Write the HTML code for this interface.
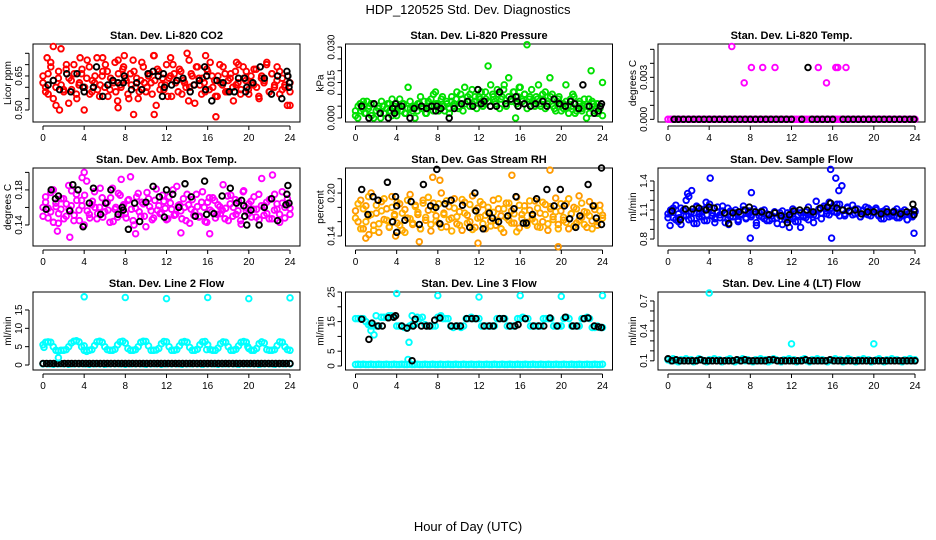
<!DOCTYPE html>
<html><head><meta charset="utf-8"><style>
body{margin:0;background:#fff}
svg{display:block}
text{font-family:"Liberation Sans",sans-serif}
</style></head><body>
<svg id="c" width="936" height="540" viewBox="0 0 936 540" xmlns="http://www.w3.org/2000/svg">
<rect width="936" height="540" fill="#fff"/>
<text x="468" y="14" font-size="13" text-anchor="middle">HDP_120525  Std. Dev. Diagnostics</text>
<text x="468" y="531" font-size="13" text-anchor="middle">Hour of Day (UTC)</text>
</svg>
<script>
// ---- data (hours 0-24, values estimated from figure) ----
const xTicks=[0,4,8,12,16,20,24];
// Panel 1: CO2 (hundredths of ppm)
const co2A=[62,58,66,71,55,60,64,77,59,68,53,63,70,57,61,66,50,64,69,58,62,73,56,65,60,67,59,63,71,54,61,68,64,57,66,72,60,55,63,69,58,65,62,74,52,67,61,59,70,64,56,66,63,68,57,62,75,60,65,53,69,61,64,58,67,71,60,56,65,62,69,58,63,66,54,61,70,59,64,67,57,62,68,60,55,65,63,71,58,66,61,69,57,64,60,52,62];
const co2B=[65,60,57,69,63,52,67,61,58,70,64,59,66,55,62,68,60,72,57,63,65,59,61,67,70,56,64,62,58,66,60,69,63,55,61,67,64,58,71,62,60,66,57,63,68,59,64,61,56,65,70,62,58,67,63,60,54,66,61,69,64,57,62,68,59,65,63,56,70,61,66,58,64,60,67,62,57,69,63,59,65,61,68,56,64,62,70,58,66,60,63,67,59,61,65,58];
const co2Out=[[1.0,78],[0.4,73],[3.6,73],[5.8,73],[7.3,72],[7.9,74],[10.8,74],[12.4,73],[15.8,74],[14.2,72],[18.8,71],[1.6,50],[8.8,48],[10.8,48],[16.8,47],[7.3,51],[24.0,52]];
const co2Blk=[[0.5,61],[1.0,63],[1.6,59],[2.3,66],[2.7,58],[3.3,66],[3.9,60],[4.0,58],[4.9,60],[5.2,69],[5.8,56],[6.3,61],[6.8,63],[7.3,62],[7.8,62],[7.9,65],[8.6,59],[9.1,62],[9.6,59],[10.2,66],[10.7,67],[11.2,65],[11.6,56],[11.7,66],[11.8,60],[12.5,61],[13.0,63],[13.6,64],[14.3,58],[14.7,61],[15.2,63],[15.7,69],[15.8,59],[15.9,65],[16.4,54],[16.9,63],[17.5,62],[18.1,58],[18.6,58],[19.0,64],[19.6,64],[19.7,58],[19.8,60],[20.4,62],[21.1,69],[21.5,64],[22.2,57],[22.8,65],[23.2,55],[23.7,67],[23.8,65],[23.9,60],[23.95,62]];
// Panel 2: pressure (thousandths kPa)
const presA=[3,0,6,4,2,7,5,1,6,3,4,0,5,2,6,3,8,4,1,5,3,6,2,13,4,5,0,3,6,4,7,2,5,8,3,11,6,4,9,3,6,2,7,5,8,4,10,3,6,9,5,12,7,4,9,11,6,8,22,5,10,7,12,4,9,14,6,17,8,11,0,9,13,7,10,31,8,12,6,9,14,5,8,11,6,17,10,4,7,9,3,6,14,5,8,10,2,4,7,3,5,0,8,20,6,4,2,5,15];
const presB=[1,5,3,7,2,4,6,0,3,5,7,2,4,6,1,5,3,8,6,2,4,7,3,5,6,9,4,2,7,5,10,6,3,8,5,7,4,9,6,11,5,8,13,7,10,6,9,12,8,5,11,7,14,9,6,10,8,12,5,9,7,11,6,13,8,10,4,9,7,5,8,6,10,4,7,9,5,3,8,6,4,7,2,5,9,3,6,4,8,5,2,7,3,6,4,1];
const presBlk=[[0.6,5],[1.3,0],[1.8,6],[2.4,2],[3.2,0],[3.6,4],[3.8,2],[3.9,6],[4.5,5],[5.3,0],[5.7,4],[6.4,5],[6.9,4],[7.4,5],[7.8,3],[7.9,5],[8.3,4],[9.1,0],[9.6,4],[10.3,6],[10.9,7],[11.4,5],[11.9,12],[12.2,6],[12.5,7],[13.1,5],[13.7,5],[14.0,11],[14.6,6],[15.1,8],[15.6,9],[15.7,7],[15.8,5],[16.4,6],[17.0,5],[17.5,6],[18.2,7],[18.6,5],[19.3,8],[19.8,6],[20.4,5],[20.9,7],[21.3,6],[21.7,4],[22.1,14],[22.7,5],[23.2,2],[23.6,3],[23.8,5],[23.9,6]];
// Panel 3: temp (ten-thousandths)
const tempBase=[0,0,0,0,0,0,0,0,0,0,0,0,0,0,0,0,0,0,0,0,0,0,0,0,0,0,0,0,0,0,0,0,0,0,0,0,0,0,0,0,0,0,0,0,0,0,0,0,0,0,0,0,0,0,0,0,0,0,0,0,0,0,0,0,0,0,0,0,0,0,0,0,0,0,0,0,0,0,0,0,0,0,0,0,0,0,0,0,0,0,0,0,0,0,0,0,0];
const tempOut=[[6.2,52],[7.4,26],[8.1,37],[9.2,37],[10.4,37],[14.6,37],[15.4,26],[16.3,37],[16.5,37],[17.3,37]];
const tempBlk=[[0.6,0],[1.0,0],[1.5,0],[2.0,0],[2.5,0],[3.0,0],[3.5,0],[4.0,0],[4.5,0],[5.0,0],[5.5,0],[6.0,0],[6.5,0],[7.0,0],[7.5,0],[8.0,0],[8.5,0],[9.0,0],[9.5,0],[10.0,0],[10.5,0],[11.0,0],[11.5,0],[12.0,0],[13.0,0],[13.6,37],[14.0,0],[14.5,0],[15.0,0],[15.5,0],[16.0,0],[17.0,0],[17.5,0],[18.0,0],[18.5,0],[19.0,0],[19.5,0],[20.0,0],[20.5,0],[21.0,0],[21.5,0],[22.0,0],[22.5,0],[23.0,0],[23.5,0],[23.9,0]];
// Panel 4: ambient box temp (thousandths)
const ambA=[160,172,148,155,180,165,142,158,170,150,185,162,145,175,157,168,140,190,152,163,178,147,160,171,155,166,143,182,158,149,174,161,153,168,195,145,159,176,150,164,138,170,156,148,181,162,154,167,146,172,158,151,184,163,147,160,175,142,169,155,161,150,178,144,166,157,171,148,163,153,186,159,145,174,160,152,167,141,179,156,164,149,172,158,146,193,162,153,169,147,175,158,143,165,160,170,152];
const ambB=[150,166,159,177,143,161,153,170,147,164,158,179,151,168,145,162,174,156,148,167,160,153,182,149,165,157,171,144,160,176,152,163,148,169,158,140,172,155,166,150,177,161,146,168,157,153,174,159,147,165,180,152,162,156,170,145,163,158,151,175,149,166,160,143,171,155,168,152,161,157,147,173,164,150,169,156,145,178,160,153,167,158,149,175,162,151,166,147,170,157,164,152,178,148,163,159];
const ambOut=[[2.6,126],[1.4,133],[4.0,200],[3.8,194],[7.6,192],[9.0,130],[22.3,197],[13.4,131],[16.2,130]];
const ambBlk=[[0.3,158],[0.8,180],[1.2,170],[1.5,173],[2.6,156],[2.9,186],[3.4,180],[3.9,138],[4.5,165],[4.9,182],[5.6,152],[6.1,165],[6.6,180],[7.3,152],[7.7,160],[7.8,157],[8.3,135],[8.9,165],[9.4,144],[10.0,166],[10.7,184],[11.3,172],[11.8,149],[12.0,180],[12.6,175],[13.2,160],[13.8,187],[14.4,172],[14.8,150],[15.7,190],[15.9,152],[16.6,153],[17.4,173],[18.2,182],[18.8,165],[19.3,168],[19.5,162],[19.6,150],[19.8,140],[20.2,157],[21.0,140],[21.5,160],[22.2,170],[22.8,145],[23.6,163],[23.7,175],[23.8,185],[23.9,165]];
// Panel 5: gas stream RH (thousandths)
const rhA=[175,160,190,150,182,168,200,155,172,145,188,163,178,152,195,170,158,185,148,177,165,198,156,183,170,150,190,162,176,147,186,168,158,200,172,153,181,165,192,157,174,148,187,169,160,196,152,179,166,184,150,173,161,190,155,178,168,145,186,162,175,158,194,151,170,182,159,176,164,189,153,172,160,184,148,178,167,193,156,175,162,185,150,171,180,158,196,166,174,152,188,161,177,155,183,169];
const rhB=[165,185,150,178,160,195,170,148,183,157,175,192,162,153,180,168,187,155,172,145,190,164,158,181,173,150,186,166,194,156,177,161,185,152,170,189,163,147,179,167,155,191,172,158,184,149,176,165,188,157,169,180,154,173,162,192,150,178,166,186,158,171,146,183,164,175,155,189,168,160,179,152,187,170,157,181,163,174,150,185,166,159,192,171,154,178,162,186,156,173,168,150,182,160,175,165];
const rhOut=[[1.0,137],[1.3,142],[6.2,132],[7.5,222],[8.2,218],[11.9,130],[18.9,232],[19.7,125],[15.2,225],[3.9,140]];
const rhBlk=[[0.6,205],[1.2,170],[1.7,195],[2.2,190],[3.1,215],[3.6,160],[3.9,195],[4.0,182],[4.0,145],[4.8,162],[5.4,188],[6.2,156],[6.6,212],[7.3,182],[7.8,180],[7.9,233],[8.2,157],[8.7,185],[9.3,190],[10.4,183],[11.1,152],[11.6,200],[11.7,175],[12.4,150],[13.0,172],[13.3,165],[13.9,160],[14.8,168],[15.4,178],[15.6,195],[16.3,158],[16.6,158],[17.2,170],[17.6,192],[18.6,205],[19.3,182],[19.9,205],[20.3,182],[20.8,164],[21.4,152],[21.8,168],[22.6,212],[23.1,182],[23.4,165],[23.9,156],[23.9,235]];
// Panel 6: sample flow (hundredths)
const sfA=[106,110,102,115,98,112,104,120,100,108,96,114,106,103,111,99,116,107,101,113,105,109,97,112,103,107,110,100,106,114,102,109,105,111,94,107,103,110,99,105,101,108,96,104,109,100,107,103,111,98,105,92,103,108,100,106,97,104,110,101,112,106,118,109,113,107,116,110,104,112,108,115,106,111,103,109,113,105,110,107,112,104,108,101,111,106,104,109,102,107,104,110,100,106,103,108];
const sfB=[102,108,112,100,106,95,110,104,124,101,107,113,103,109,99,105,111,104,97,108,102,114,106,100,109,103,107,98,105,110,101,106,103,108,97,104,109,101,106,99,104,108,102,107,95,103,100,106,101,109,98,107,104,102,113,108,105,119,111,107,114,109,105,112,108,116,104,110,106,113,109,105,111,107,103,110,106,112,104,108,110,105,101,109,106,103,107,104,111,102,108,105,100,107,104,109];
const sfOut=[[0.2,94],[1.1,102],[1.9,127],[2.3,130],[3.7,118],[4.1,143],[8.0,81],[8.1,128],[15.8,152],[15.9,81],[16.3,143],[16.6,130],[16.9,135],[23.9,86],[2.8,96],[11.8,92],[5.9,95]];
const sfBlk=[[0.4,109],[1.2,100],[1.7,111],[2.4,111],[3.0,112],[3.7,110],[4.0,113],[4.5,112],[5.5,107],[5.9,96],[6.3,107],[6.9,108],[7.5,110],[7.9,113],[8.5,108],[9.1,108],[9.8,105],[10.4,107],[11.0,104],[11.6,97],[11.8,105],[12.2,109],[12.8,110],[13.5,110],[14.1,108],[14.8,112],[15.5,113],[15.8,117],[16.4,112],[17.0,110],[17.6,109],[18.2,110],[18.8,106],[19.4,108],[20.0,108],[20.7,106],[21.3,108],[21.9,108],[22.6,106],[23.2,108],[23.8,116],[23.9,110],[23.9,105]];
// Panel 7: line 2 flow (ml/min)
const l2A=[5.5,6.2,6.3,6.2,5,4,3.8,4,4,4.2,5,6,6.5,6.6,6.3,5,4,3.7,4,4.2,5.3,6.3,6.5,6.2,5,4.2,4,4,4.3,5.5,6.3,6.5,6,4.5,4,4,4.2,5,6.2,6.5,6.4,5.2,4,4,4.1,4.5,5.8,6.4,6.3,5,4,4,4.2,5.2,6.2,6.4,6.2,4.8,4,4,4.3,5.5,6.3,6.4,5.5,4.2,4,4,4.6,5.8,6.3,6.2,5,4,4,4.3,5.2,6.2,6.4,6.2,4.5,4,4,4.5,5.8,6.3,6,4.2,4,4,4.2,5.3,6.3,6.2,5,4.2,4];
const l2Low=[0.3,0.3,0.2,0.3,0.3,0.2,0.3,0.3,0.3,0.2,0.3,0.3,0.2,0.3,0.3,0.3,0.2,0.3,0.3,0.3,0.2,0.3,0.3,0.2,0.3,0.3,0.3,0.2,0.3,0.3,0.3,0.2,0.3,0.3,0.2,0.3,0.3,0.3,0.2,0.3,0.3,0.3,0.2,0.3,0.3,0.2,0.3,0.3,0.3];
const l2Out=[[0.1,4.8],[1.5,2.0],[4.0,18.6],[8.0,18.4],[12.0,18.1],[16.0,18.4],[20.0,18.1],[24.0,18.3],[4.0,5.2],[15.9,4.2],[19.9,5]];
const l2Blk=[0.4,0.4,0.4,0.4,0.4,0.4,0.4,0.4,0.4,0.4,0.4,0.4,0.4,0.4,0.4,0.4,0.4,0.4,0.4,0.4,0.4,0.4,0.4,0.4,0.4,0.4,0.4,0.4,0.4,0.4,0.4,0.4,0.4,0.4,0.4,0.4,0.4,0.4,0.4,0.4,0.4,0.4,0.4,0.4,0.4,0.4,0.4,0.4,0.4,0.4,0.4,0.4,0.4,0.4,0.4,0.4,0.4,0.4,0.4,0.4,0.4,0.4,0.4,0.4,0.4,0.4,0.4,0.4,0.4,0.4];
// Panel 8: line 3 flow (ml/min)
const l3A=[16,16,16,16,15,14,13.5,14,13.5,13.5,16.5,16.5,16.5,17,17,16.5,13.5,13.5,13.5,13,12.8,13.5,14,14,16.5,16,16.5,14,13.5,13.5,13.5,13.5,16.5,16.5,16,16,16,13.5,13,13.5,13.5,13,13.5,16,16,16.5,16,16,16,13.5,13.5,13.5,13.5,13.5,13.5,16,16,16,16,13.5,13.5,13.5,13.5,16,16,16.5,16,16,13.5,13.5,13.5,13.5,13.5,16,16,16,16,13.5,13.5,13.5,13.5,16,16.5,16,13.5,13.5,13.5,13.5,16,16,16.5,16,13,13,13.5,13,13];
const l3Low=[0.5,0.6,0.5,0.6,0.5,0.5,0.6,0.5,0.5,0.6,0.5,0.5,0.6,0.5,0.5,0.6,0.5,0.5,0.6,0.5,0.5,0.6,0.5,0.5,0.6,0.5,0.5,0.6,0.5,0.5,0.6,0.5,0.5,0.6,0.5,0.5,0.6,0.5,0.5,0.6,0.5,0.5,0.6,0.5,0.5,0.6,0.5,0.5,0.6,0.5,0.5,0.6,0.5,0.5,0.6,0.5,0.5,0.6,0.5,0.5,0.6,0.5,0.5,0.6,0.5,0.5,0.6,0.5,0.5,0.6,0.5,0.5,0.6,0.5,0.5,0.6,0.5,0.5,0.6,0.5,0.5,0.6,0.5,0.5,0.6,0.5,0.5,0.6,0.5,0.5,0.6,0.5,0.5,0.6,0.5,0.5,0.6];
const l3Out=[[4.0,24.5],[8.0,23.8],[12.0,23.3],[16.0,23.8],[20.0,23.5],[24.0,23.8],[1.5,12],[1.8,10.5],[5.2,8],[5.1,2.2],[2.0,17],[5.5,17],[8.3,17]];
const l3Blk=[[0.6,15.8],[1.3,9],[1.6,14.5],[2.2,13.5],[2.6,13.5],[3.2,16.3],[3.7,16.5],[3.9,17],[4.5,13.5],[5.0,12.8],[5.6,13.5],[5.5,1.8],[5.8,15.8],[6.4,13.5],[6.9,13.5],[7.2,13.5],[7.7,15.5],[8.2,16.2],[9.3,13.5],[9.8,13.5],[10.2,13.5],[10.8,16],[11.3,16],[11.7,16],[12.5,13.5],[13.0,13.5],[13.4,13.5],[14.0,16],[14.4,16],[15.0,13.5],[15.5,13.5],[15.8,14],[16.5,16],[17.3,13.5],[17.8,13.5],[18.3,13.5],[18.9,16.2],[19.6,13.5],[20.4,16.5],[21.1,13.5],[21.5,13.5],[22.2,16],[22.6,16.2],[23.2,13.5],[23.6,13.2],[23.9,13]];
// Panel 9: line 4 (LT) flow (ml/min)
const l4A=[0.11,0.1,0.12,0.1,0.09,0.11,0.1,0.12,0.1,0.11,0.09,0.1,0.12,0.11,0.1,0.09,0.11,0.1,0.12,0.1,0.11,0.09,0.1,0.11,0.12,0.1,0.09,0.11,0.1,0.12,0.1,0.11,0.1,0.09,0.11,0.1,0.12,0.1,0.11,0.09,0.1,0.12,0.11,0.1,0.09,0.11,0.1,0.12,0.1,0.11,0.09,0.1,0.11,0.12,0.1,0.09,0.11,0.1,0.12,0.1,0.11,0.1,0.09,0.11,0.1,0.12,0.1,0.11,0.09,0.1,0.12,0.11,0.1,0.09,0.11,0.1,0.12,0.1,0.11,0.09,0.1,0.11,0.12,0.1,0.09,0.11,0.1,0.12,0.1,0.11,0.1,0.09,0.11,0.1,0.12,0.1,0.11];
const l4Out=[[4.0,0.78],[12.0,0.27],[20.0,0.27],[0.0,0.11]];
const l4Blk=[0.12,0.1,0.11,0.1,0.1,0.1,0.1,0.1,0.11,0.1,0.1,0.1,0.1,0.1,0.1,0.1,0.1,0.11,0.1,0.11,0.1,0.1,0.1,0.1,0.1,0.11,0.11,0.1,0.1,0.1,0.1,0.1,0.1,0.1,0.11,0.1,0.1,0.1,0.1,0.1,0.11,0.1,0.1,0.1,0.1,0.1,0.1,0.1,0.1,0.1,0.1,0.1,0.1,0.1,0.1,0.1,0.1,0.1,0.1,0.1,0.1,0.1];

const NS='http://www.w3.org/2000/svg';
const svg=document.getElementById('c');
function mk(tag,attrs,parent){const e=document.createElementNS(NS,tag);for(const k in attrs)e.setAttribute(k,attrs[k]);(parent||svg).appendChild(e);return e;}

const colL=[33,345.5,658], rowT=[44,168,292], BW=267, BH=78;
function makePanel(col,row,title,ytitle,ymin,ymax,yticks,ylabels,key){
  const L=colL[col],T=rowT[row];
  const g=mk('g',{});
  
  
  const P={g,L,T,
    x:h=>L+10+h*(BW-20)/24,
    y:v=>T+(ymax-v)/(ymax-ymin)*BH};
  const t=mk('text',{x:L+BW/2,y:T-5,'font-size':11,'font-weight':'bold','text-anchor':'middle'},g);
  t.textContent=title;
  
  
  const box=mk('rect',{x:L,y:T,width:BW,height:BH,fill:'none',stroke:'#000','stroke-width':1},g);
  
  
  const xa=mk('g',{},g);
  
  
  const yb=T+BH+4;
  mk('line',{x1:P.x(xTicks[0]),x2:P.x(xTicks[xTicks.length-1]),y1:yb,y2:yb,stroke:'#000'},xa);
  xTicks.forEach(h=>{
    mk('line',{x1:P.x(h),x2:P.x(h),y1:yb,y2:yb+4,stroke:'#000'},xa);
    const tl=mk('text',{x:P.x(h),y:yb+15,'font-size':10,'text-anchor':'middle'},xa);
    tl.textContent=h;
  });
  const ya=mk('g',{},g);
  
  
  const xl=L-4;
  mk('line',{x1:xl,x2:xl,y1:P.y(yticks[0]),y2:P.y(yticks[yticks.length-1]),stroke:'#000'},ya);
  yticks.forEach((v,i)=>{
    mk('line',{x1:xl,x2:xl-4,y1:P.y(v),y2:P.y(v),stroke:'#000'},ya);
    if(ylabels[i]){
      const yy=P.y(v);
      const tl=mk('text',{x:xl-7,y:yy,'font-size':10,'text-anchor':'middle',transform:`rotate(-90 ${xl-7} ${yy})`},ya);
      tl.textContent=ylabels[i];
    }
  });
  const yt=mk('text',{x:L-22,y:T+BH/2,'font-size':10,'text-anchor':'middle',transform:`rotate(-90 ${L-22} ${T+BH/2})`},g);
  yt.textContent=ytitle;
  
  
  const clip=mk('g',{},g);
  P.pts=clip;
  return P;
}
function dot(P,h,v,color,name){
  const c=mk('circle',{cx:P.x(h).toFixed(1),cy:P.y(v).toFixed(1),r:2.8,fill:'none',stroke:color,'stroke-width':1.9},P.pts);
  
  
}
function seriesIdx(P,vals,scale,color,name){vals.forEach((v,i)=>dot(P,24*i/(vals.length-1),v*scale,color,name));}
function seriesPairs(P,pairs,scale,color,name){pairs.forEach(p=>dot(P,p[0],p[1]*scale,color,name));}

let P=makePanel(0,0,'Stan. Dev. Li-820 CO2','Licor ppm',0.447,0.791,[0.50,0.55,0.60,0.65,0.70,0.75],['0.50','','','0.65','',''],'co2');
seriesIdx(P,co2A,0.01,'#ff0000','co2-point');seriesIdx(P,co2B,0.01,'#ff0000','co2-point');seriesPairs(P,co2Out,0.01,'#ff0000','co2-point');seriesPairs(P,co2Blk,0.01,'#000','co2-black-point');
P=makePanel(1,0,'Stan. Dev. Li-820 Pressure','kPa',-0.0017,0.0313,[0,0.005,0.010,0.015,0.020,0.025,0.030],['0.000','','','0.015','','','0.030'],'pressure');
seriesIdx(P,presA,0.001,'#00e000','pressure-point');seriesIdx(P,presB,0.001,'#00e000','pressure-point');seriesPairs(P,presBlk,0.001,'#000','pressure-black-point');
P=makePanel(2,0,'Stan. Dev. Li-820 Temp.','degrees C',-0.00019,0.00538,[0,0.001,0.002,0.003,0.004,0.005],['0.000','','','0.003','',''],'temp');
seriesIdx(P,tempBase,0.0001,'#ff00ff','temp-point');seriesPairs(P,tempOut,0.0001,'#ff00ff','temp-point');seriesPairs(P,tempBlk,0.0001,'#000','temp-black-point');
P=makePanel(0,1,'Stan. Dev. Amb. Box Temp.','degrees C',0.116,0.205,[0.14,0.16,0.18,0.20],['0.14','','0.18',''],'amb-temp');
seriesIdx(P,ambA,0.001,'#ff00ff','amb-point');seriesIdx(P,ambB,0.001,'#ff00ff','amb-point');seriesPairs(P,ambOut,0.001,'#ff00ff','amb-point');seriesPairs(P,ambBlk,0.001,'#000','amb-black-point');
P=makePanel(1,1,'Stan. Dev. Gas Stream RH','percent',0.126,0.235,[0.14,0.16,0.18,0.20,0.22],['0.14','','','0.20',''],'rh');
seriesIdx(P,rhA,0.001,'#ff9a00','rh-point');seriesIdx(P,rhB,0.001,'#ffb000','rh-point');seriesPairs(P,rhOut,0.001,'#ff9a00','rh-point');seriesPairs(P,rhBlk,0.001,'#000','rh-black-point');
P=makePanel(2,1,'Stan. Dev. Sample Flow','ml/min',0.728,1.534,[0.8,0.9,1.0,1.1,1.2,1.3,1.4],['0.8','','','1.1','','','1.4'],'sample-flow');
seriesIdx(P,sfA,0.01,'#0000ff','sample-point');seriesIdx(P,sfB,0.01,'#0000ff','sample-point');seriesPairs(P,sfOut,0.01,'#0000ff','sample-point');seriesPairs(P,sfBlk,0.01,'#000','sample-black-point');
P=makePanel(0,2,'Stan. Dev. Line 2 Flow','ml/min',-1.36,19.9,[0,5,10,15],['0','5','10','15'],'line2');
seriesIdx(P,l2Low,1,'#00ffff','line2-point');seriesIdx(P,l2Blk,1,'#000','line2-black-point');seriesIdx(P,l2A,1,'#00ffff','line2-point');seriesPairs(P,l2Out,1,'#00ffff','line2-point');
P=makePanel(1,2,'Stan. Dev. Line 3 Flow','ml/min',-1.35,25,[0,5,10,15,20,25],['0','5','','15','','25'],'line3');
seriesIdx(P,l3Low,1,'#00ffff','line3-point');seriesIdx(P,l3A,1,'#00ffff','line3-point');seriesPairs(P,l3Out,1,'#00ffff','line3-point');seriesPairs(P,l3Blk,1,'#000','line3-black-point');
P=makePanel(2,2,'Stan. Dev. Line 4 (LT) Flow','ml/min',0.008,0.79,[0.1,0.2,0.3,0.4,0.5,0.6,0.7],['0.1','','','0.4','','','0.7'],'line4');
seriesIdx(P,l4A,1,'#00ffff','line4-point');seriesPairs(P,l4Out,1,'#00ffff','line4-point');seriesIdx(P,l4Blk,1,'#000','line4-black-point');
</script>
</body></html>
